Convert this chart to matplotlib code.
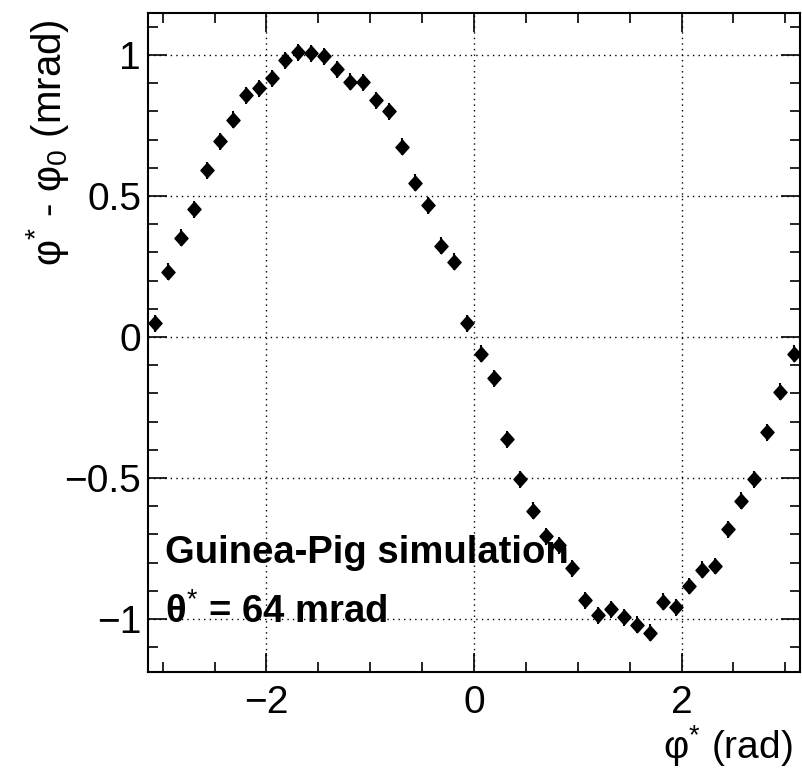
import numpy as np
import matplotlib
matplotlib.use('Agg')
import matplotlib.pyplot as plt
from matplotlib.ticker import MultipleLocator

plt.rcParams['font.family'] = ['Liberation Sans', 'DejaVu Sans']
plt.rcParams['mathtext.fontset'] = 'custom'
plt.rcParams['mathtext.rm'] = 'Liberation Sans'
plt.rcParams['mathtext.it'] = 'Liberation Sans:italic'
plt.rcParams['mathtext.bf'] = 'Liberation Sans:bold'

# 50 bins over [-pi, pi]
n_bins = 50
phi_lo, phi_hi = -np.pi, np.pi
dphi = [0.048, 0.232, 0.352, 0.453, 0.592, 0.695, 0.770, 0.858, 0.882, 0.917,
        0.982, 1.010, 1.006, 0.996, 0.949, 0.905, 0.903, 0.840, 0.801, 0.675,
        0.547, 0.468, 0.323, 0.267, 0.048, -0.060, -0.147, -0.362, -0.505, -0.616,
        -0.706, -0.738, -0.820, -0.933, -0.986, -0.966, -0.994, -1.021, -1.049, -0.939,
        -0.959, -0.883, -0.826, -0.812, -0.682, -0.580, -0.504, -0.338, -0.194, -0.060]
dphi_err = [0.03] * n_bins

edges = np.linspace(phi_lo, phi_hi, n_bins + 1)
centers = 0.5 * (edges[:-1] + edges[1:])

fig = plt.figure(figsize=(8.03, 7.71), dpi=100)
ax = fig.add_axes([0.1843, 0.1284, 0.812, 0.8547])

diamond = [(0, 1), (0.9, 0), (0, -1), (-0.9, 0), (0, 1)]
ax.errorbar(centers, dphi, yerr=dphi_err, fmt='none', ecolor='black', elinewidth=1.5)
ax.plot(centers, dphi, linestyle='none', marker=diamond, markersize=10.5,
        color='black')

ax.set_xlim(phi_lo, phi_hi)
ax.set_ylim(-1.188, 1.149)

ax.xaxis.set_major_locator(MultipleLocator(2))
ax.xaxis.set_minor_locator(MultipleLocator(0.5))
ax.yaxis.set_major_locator(MultipleLocator(0.5))
ax.yaxis.set_minor_locator(MultipleLocator(0.1))
ax.tick_params(which='both', direction='in', top=True, right=True, width=1.2)
ax.tick_params(which='major', length=14, labelsize=28)
ax.tick_params(axis='y', which='major', pad=5)
ax.tick_params(axis='x', which='major', pad=9)
ax.tick_params(which='minor', length=7)
ax.yaxis.set_major_formatter(plt.FuncFormatter(
    lambda v, p: '0' if abs(v) < 1e-9 else ('%g' % v).replace('-', '\u2212')))
ax.xaxis.set_major_formatter(plt.FuncFormatter(
    lambda v, p: ('%g' % v).replace('-', '\u2212')))

ax.grid(True, which='major', color='black', linestyle=(0, (1, 3)), linewidth=1.0)
for s in ax.spines.values():
    s.set_linewidth(1.5)

ax.set_xlabel('φ$^{*}$ (rad)', fontsize=28, ha='right')
ax.xaxis.set_label_coords(0.988, -0.077)
ax.set_ylabel('φ$^{*}$ - φ$_{0}$ (mrad)', fontsize=29, ha='right')
ax.yaxis.set_label_coords(-0.118, 0.99)

ax.text(-2.98, -0.80, 'Guinea-Pig simulation', fontsize=27.5, fontweight='bold',
        va='baseline')
ax.text(-2.98, -1.014, 'θ$^{*}$ = 64 mrad', fontsize=27.5, fontweight='bold',
        va='baseline')

fig.savefig('out.png', dpi=100)
